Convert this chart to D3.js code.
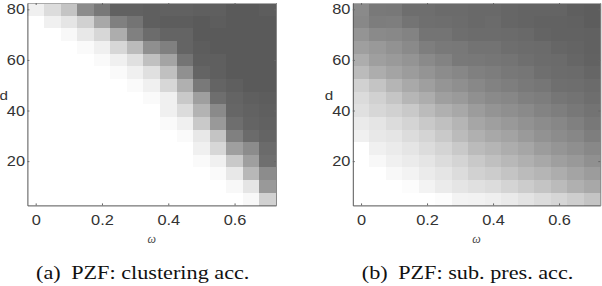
<!DOCTYPE html>
<html>
<head>
<meta charset="utf-8">
<script src="https://cdn.jsdelivr.net/npm/d3@7/dist/d3.min.js"></script>
<style>
  body { margin: 0; background: #fff; }
  svg { display: block; }
</style>
</head>
<body>
<svg id="fig" width="602" height="286"></svg>
<script>
// omega (columns) and d (rows, top to bottom)
const omega = [0, 0.05, 0.1, 0.15, 0.2, 0.25, 0.3, 0.35, 0.4, 0.45, 0.5, 0.55, 0.6, 0.65, 0.7];
const dims = [80, 75, 70, 65, 60, 55, 50, 45, 40, 35, 30, 25, 20, 15, 10, 5];
const xTicks = [0, 0.2, 0.4, 0.6];
const yTicks = [20, 40, 60, 80];
const captionTags = ["(a)", "(b)"];
const captionTexts = ["PZF: clustering acc.", "PZF: sub. pres. acc."];

// shade values, 0 = white, 1 = darkest gray
const clusterAcc = [
  [.09, .21, .36, .70, .82, .96, .96, .97, .96, .96, .97, .97, 1, 1, .98],
  [0, .09, .16, .28, .53, .77, .84, .97, .98, .98, 1, .98, 1, 1, 1],
  [0, 0, .04, .14, .24, .50, .77, .89, .94, .94, 1, 1, 1, 1, 1],
  [0, 0, 0, .03, .09, .24, .41, .68, .77, .94, .98, 1, 1, 1, 1],
  [0, 0, 0, 0, .03, .09, .19, .38, .55, .84, .97, .97, 1, 1, 1],
  [0, 0, 0, 0, 0, .03, .09, .19, .38, .67, .94, .97, 1, 1, 1],
  [0, 0, 0, 0, 0, 0, .03, .09, .24, .48, .81, .94, .97, 1, 1],
  [0, 0, 0, 0, 0, 0, 0, .03, .09, .33, .58, .88, .94, .97, .98],
  [0, 0, 0, 0, 0, 0, 0, 0, .09, .21, .46, .71, .93, .95, .97],
  [0, 0, 0, 0, 0, 0, 0, 0, .03, .09, .33, .62, .88, .94, .96],
  [0, 0, 0, 0, 0, 0, 0, 0, 0, .03, .14, .36, .77, .90, .94],
  [0, 0, 0, 0, 0, 0, 0, 0, 0, 0, .09, .24, .58, .70, .90],
  [0, 0, 0, 0, 0, 0, 0, 0, 0, 0, .03, .09, .33, .58, .87],
  [0, 0, 0, 0, 0, 0, 0, 0, 0, 0, 0, .03, .14, .43, .70],
  [0, 0, 0, 0, 0, 0, 0, 0, 0, 0, 0, 0, .04, .16, .62],
  [0, 0, 0, 0, 0, 0, 0, 0, 0, 0, 0, 0, 0, .04, .28]
];

const subPresAcc = [
  [.71, .81, .82, .88, .88, .90, .90, .91, .91, .93, .94, .94, .94, .97, .98],
  [.72, .79, .78, .84, .87, .88, .89, .91, .90, .93, .94, .95, .95, .96, .98],
  [.65, .71, .72, .75, .84, .84, .88, .89, .89, .90, .91, .94, .95, .95, .96],
  [.58, .62, .66, .71, .78, .81, .82, .85, .85, .88, .89, .90, .93, .94, .96],
  [.50, .58, .61, .65, .71, .75, .81, .82, .83, .84, .87, .89, .90, .93, .95],
  [.41, .50, .55, .60, .65, .70, .73, .77, .79, .82, .83, .87, .89, .90, .93],
  [.28, .36, .45, .52, .58, .64, .68, .72, .76, .78, .81, .83, .87, .88, .90],
  [.22, .28, .35, .44, .50, .58, .61, .67, .71, .73, .77, .79, .83, .85, .88],
  [.19, .24, .28, .33, .41, .48, .53, .60, .65, .68, .71, .75, .78, .82, .85],
  [.13, .16, .21, .26, .33, .38, .45, .54, .58, .62, .66, .70, .73, .77, .82],
  [.09, .14, .16, .21, .26, .33, .41, .48, .53, .56, .61, .66, .70, .73, .78],
  [0, .09, .12, .16, .21, .26, .33, .41, .45, .50, .54, .60, .64, .68, .72],
  [0, .04, .09, .12, .16, .21, .26, .33, .38, .43, .48, .53, .58, .62, .67],
  [0, 0, .04, .07, .12, .16, .21, .28, .31, .36, .41, .45, .50, .55, .60],
  [0, 0, 0, .02, .07, .12, .16, .19, .21, .26, .31, .36, .41, .48, .53],
  [0, 0, 0, 0, 0, .02, .07, .08, .10, .13, .17, .21, .25, .30, .36]
];

const svg = d3.select("#fig");
const top_ = 3, bottom = 205.4;
const stretch = 1.17; // the source picture is wider than tall-true

const shade = d3.scaleLinear().domain([0, 1]).range(["#ffffff", "#5a5a5a"]);

function styleTicks(sel){
  sel.attr("font-family", "'Liberation Sans', Arial, sans-serif").attr("font-size", 14);
  sel.selectAll("text").attr("fill", "#333").attr("transform", "scale(" + stretch + ",1)");
  sel.selectAll(".tick line").attr("stroke", "#666");
}

function drawPanel(values, left, right, idx){
  const g = svg.append("g");
  const wStep = omega[1] - omega[0];
  const dStep = dims[0] - dims[1];
  const x = d3.scaleLinear()
    .domain([omega[0] - wStep / 2, omega[omega.length - 1] + wStep / 2])
    .range([left, right]);
  const y = d3.scaleLinear()
    .domain([dims[dims.length - 1] - dStep / 2, dims[0] + dStep / 2])
    .range([bottom, top_]);

  const cells = [];
  values.forEach(function(row, i){
    row.forEach(function(v, j){ cells.push({w: omega[j], d: dims[i], v: v}); });
  });

  g.selectAll("rect.cell").data(cells).enter()
    .append("rect")
    .attr("class", "cell")
    .attr("x", d => x(d.w - wStep / 2))
    .attr("y", d => y(d.d + dStep / 2))
    .attr("width", x(wStep) - x(0) + 0.5)
    .attr("height", y(0) - y(dStep) + 0.5)
    .attr("fill", d => shade(d.v))
    .attr("shape-rendering", "crispEdges");

  // MATLAB-like box with inward ticks
  const xb = g.append("g").attr("transform", "translate(0," + bottom + ")")
    .call(d3.axisBottom(x).tickValues(xTicks).tickSizeInner(-2).tickSizeOuter(0)
      .tickPadding(10).tickFormat(d3.format("~g")));
  styleTicks(xb);
  xb.select(".domain").attr("stroke", "#555");

  const xt = g.append("g").attr("transform", "translate(0," + top_ + ")")
    .call(d3.axisTop(x).tickValues(xTicks).tickSizeInner(-2).tickSizeOuter(0).tickFormat(""));
  styleTicks(xt);
  xt.select(".domain").attr("stroke", "#aaa");

  const yl = g.append("g").attr("transform", "translate(" + left + ",0)")
    .call(d3.axisLeft(y).tickValues(yTicks).tickSizeInner(-2).tickSizeOuter(0).tickPadding(2));
  styleTicks(yl);
  yl.select(".domain").attr("stroke", "#555");

  const yr = g.append("g").attr("transform", "translate(" + right + ",0)")
    .call(d3.axisRight(y).tickValues(yTicks).tickSizeInner(-2).tickSizeOuter(0).tickFormat(""));
  styleTicks(yr);
  yr.select(".domain").attr("stroke", "#888");

  // axis titles
  g.append("text")
    .attr("x", (left + right) / 2).attr("y", 243)
    .attr("text-anchor", "middle")
    .attr("font-family", "'Liberation Serif', serif").attr("font-style", "italic")
    .attr("font-size", 12).attr("fill", "#444")
    .text("ω");

  g.append("text")
    .attr("transform", "translate(" + (left - 28) + ",100) scale(" + stretch + ",1)")
    .attr("font-family", "'Liberation Sans', Arial, sans-serif")
    .attr("font-size", 13).attr("fill", "#333")
    .text("d");

  // sub-caption
  const cap = g.append("text")
    .attr("transform", "translate(" + ((left + right) / 2 - 9) + ",279) scale(" + stretch + ",1)")
    .attr("text-anchor", "middle")
    .attr("font-family", "'Liberation Serif', 'Times New Roman', serif")
    .attr("font-size", 19).attr("fill", "#111");
  cap.append("tspan").text(captionTags[idx]);
  cap.append("tspan").attr("dx", 9).text(captionTexts[idx]);
}

drawPanel(clusterAcc, 27.4, 276, 0);
drawPanel(subPresAcc, 352.8, 600.3, 1);
</script>
</body>
</html>
